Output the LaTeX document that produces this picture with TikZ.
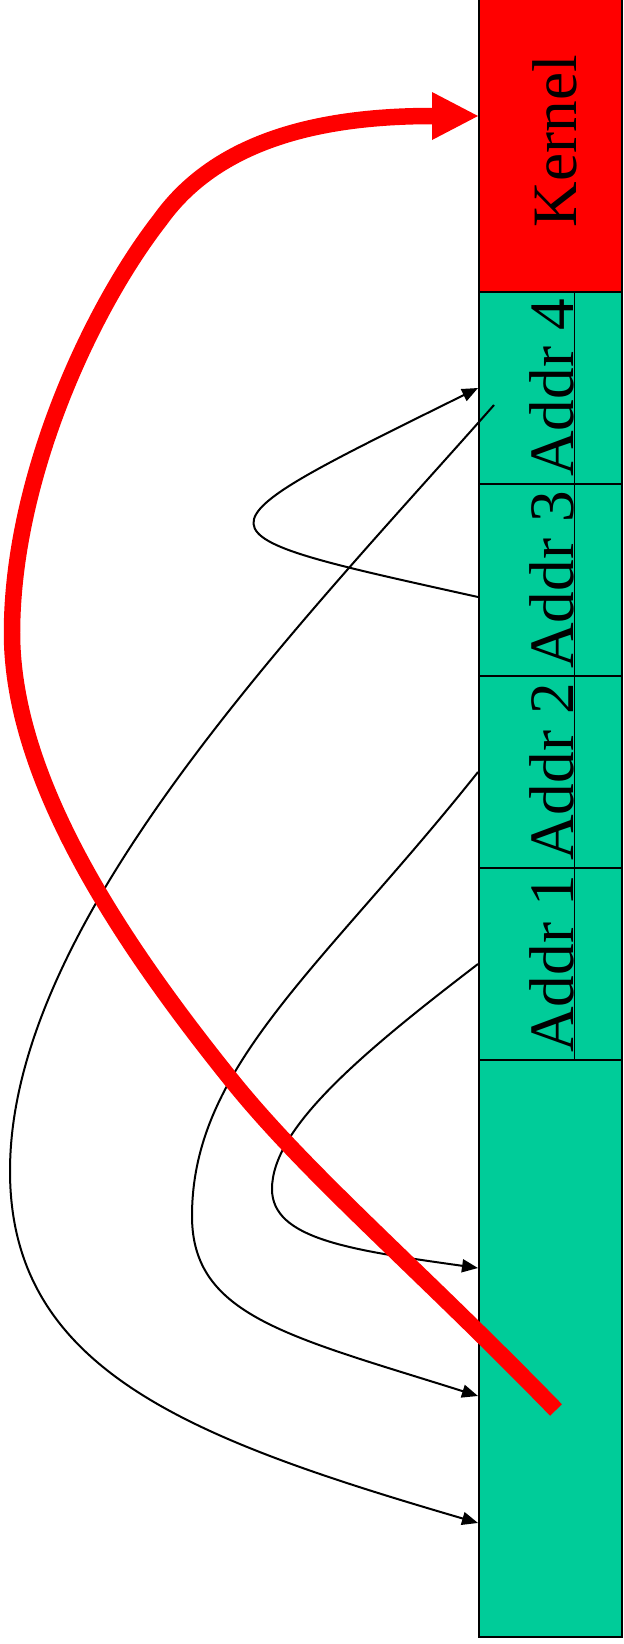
\documentclass[tikz,border=0pt]{standalone}
\usepackage{fontspec}
\setmainfont{Liberation Serif}
\usepackage{tikz}
\usetikzlibrary{arrows.meta,positioning}
\definecolor{kernelred}{RGB}{255,0,0}
\definecolor{memgreen}{RGB}{0,204,153}

\begin{document}
\begin{tikzpicture}[x=0.02cm,y=-0.02cm,
  cell/.style={draw=black, line width=0.04cm, inner sep=0pt, minimum width=2.86cm},
  lbl/.style={rotate=90, anchor=base, inner sep=0pt, font=\fontsize{36}{40}\selectfont},
  jump/.style={-{Triangle[length=0.32cm,width=0.26cm]}, line width=0.04cm},
  trap/.style={-{Triangle[length=0.92cm,width=0.96cm,line width=0pt]}, draw=kernelred, line width=0.33cm}
]
\useasboundingbox (0,0) rectangle (623,1644);

% memory column
\node[cell, fill=kernelred, minimum height=6.04cm]  (kernel) at (550.5,141)    {};
\node[cell, fill=memgreen,  minimum height=3.84cm]  (addr4)  at (550.5,388)    {};
\node[cell, fill=memgreen,  minimum height=3.84cm]  (addr3)  at (550.5,580)    {};
\node[cell, fill=memgreen,  minimum height=3.84cm]  (addr2)  at (550.5,772)    {};
\node[cell, fill=memgreen,  minimum height=3.84cm]  (addr1)  at (550.5,964)    {};
\node[cell, fill=memgreen,  minimum height=11.54cm] (free)   at (550.5,1348.5) {};
\draw[line width=0.04cm] ([xshift=0.48cm]addr4.north) -- ([xshift=0.48cm]addr1.south);

\node[lbl] (kernellbl) at ([xshift=0.52cm]kernel.center) {Kernel};
\node[lbl] (addr4lbl)  at ([xshift=0.46cm]addr4.center)  {Addr 4};
\node[lbl] (addr3lbl)  at ([xshift=0.46cm]addr3.center)  {Addr 3};
\node[lbl] (addr2lbl)  at ([xshift=0.46cm]addr2.center)  {Addr 2};
\node[lbl] (addr1lbl)  at ([xshift=0.46cm]addr1.center)  {Addr 1};

% jumps
\coordinate (turn4) at (10,1171);
\coordinate (turn2) at (192,1216);
\coordinate (turn1) at (272,1189);
\draw[jump] ([yshift=-0.34cm]addr3.west) .. controls (181,531) and (181,535) .. (addr4.west);
\draw[jump] ([xshift=0.32cm,yshift=-0.34cm]addr4.west) .. controls (296,629) and (10,921) .. (turn4)
  .. controls (10,1371) and (191,1439) .. ([yshift=-3.49cm]free.west);
\draw[jump] (addr2.west) .. controls (322,968) and (192,1066) .. (turn2)
  .. controls (192,1316) and (288,1336) .. ([yshift=-0.95cm]free.west);
\draw[jump] (addr1.west) .. controls (359,1055) and (272,1129) .. (turn1)
  .. controls (272,1239) and (350,1250) .. ([yshift=1.61cm]free.west);

% into the kernel
\coordinate (bend1) at (233,1082);
\coordinate (bend2) at (12,633);
\coordinate (bend3) at (160,220);
\draw[trap] ([xshift=1.56cm,yshift=-1.23cm]free.west) .. controls (420,1270) and (309,1176) .. (bend1)
  .. controls (126,949) and (12,783) .. (bend2)
  .. controls (12,480) and (90,310) .. (bend3)
  .. controls (210,150) and (300,116) .. ([yshift=0.5cm]kernel.west);
\end{tikzpicture}
\end{document}
